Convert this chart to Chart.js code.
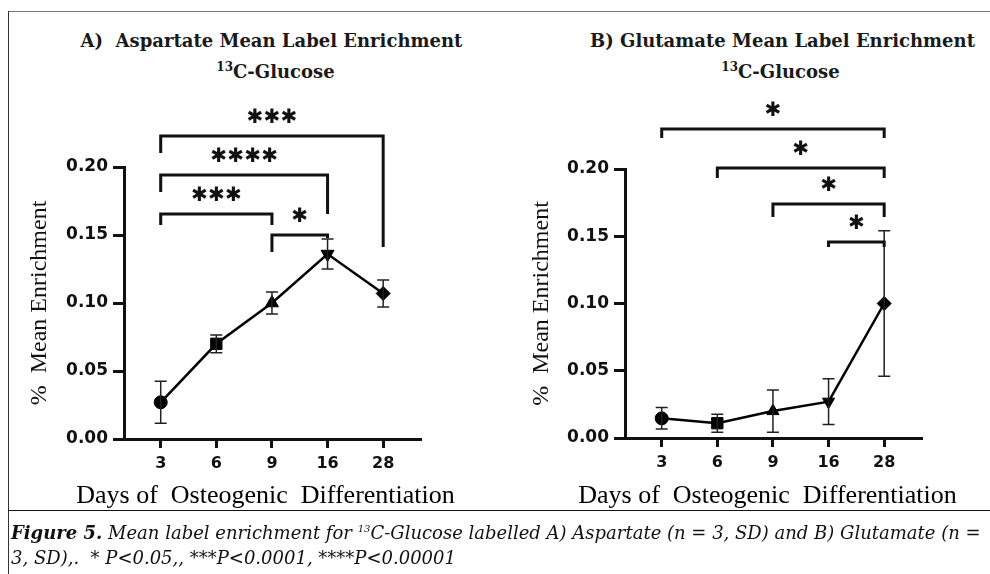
<!DOCTYPE html>
<html>
<head>
<meta charset="utf-8">
<script src="https://cdn.jsdelivr.net/npm/chart.js@4"></script>
<style>
  body { margin: 0; background: #fff; }
  #page { position: relative; width: 990px; height: 574px; overflow: hidden; font-family: "DejaVu Serif", serif; }
  .rule { position: absolute; }
  .panel { position: absolute; top: 0; width: 495px; height: 510px; }
  .title { position: absolute; width: 495px; text-align: center; font-weight: bold; font-size: 18px; color: #1a1a1a; }
  .title sup { font-size: 12px; }
  .xtitle { position: absolute; width: 495px; text-align: center; white-space: pre; font-family: "Liberation Serif", serif; font-size: 26px; line-height: 30px; color: #000; }
  .caption { position: absolute; left: 11px; top: 516px; width: 978px; white-space: nowrap; font-family: "DejaVu Serif", serif; font-style: italic; font-size: 18px; line-height: 25px; color: #111; }
  .caption sup { font-size: 10px; }
</style>
</head>
<body>
<div id="page">
  <div class="rule" style="left:8px;top:11px;width:982px;height:1px;background:#777"></div>
  <div class="rule" style="left:8px;top:11px;width:1px;height:563px;background:#333"></div>
  <div class="rule" style="left:8px;top:510px;width:982px;height:1px;background:#111"></div>

  <div class="title" style="left:24px;top:30px">A)&nbsp; Aspartate Mean Label Enrichment</div>
  <div class="title" style="left:28px;top:60px"><sup>13</sup>C-Glucose</div>
  <div class="title" style="left:535px;top:30px">B) Glutamate Mean Label Enrichment</div>
  <div class="title" style="left:533px;top:60px"><sup>13</sup>C-Glucose</div>

  <div class="panel" style="left:0"><canvas id="chartA" width="495" height="510"></canvas></div>
  <div class="panel" style="left:495px"><canvas id="chartB" width="495" height="510"></canvas></div>

  <div class="xtitle" style="left:18px;top:480px">Days of  Osteogenic  Differentiation</div>
  <div class="xtitle" style="left:520px;top:480px">Days of  Osteogenic  Differentiation</div>

  <div class="caption"><b>Figure 5.</b> Mean label enrichment for <sup>13</sup>C-Glucose labelled A) Aspartate (n = 3, SD) and B) Glutamate (n =<br>3, SD),.&nbsp; * P&lt;0.05,, ***P&lt;0.0001, ****P&lt;0.00001</div>
</div>

<script>
// days of differentiation
const days = ["3", "6", "9", "16", "28"];
const yTicks = [0, 0.05, 0.1, 0.15, 0.2];

// aspartate mean enrichment and SD
const aspMean = [0.027, 0.070, 0.100, 0.136, 0.107];
const aspSd = [0.0155, 0.0065, 0.008, 0.011, 0.010];

// glutamate mean enrichment and SD
const gluMean = [0.0146, 0.011, 0.020, 0.027, 0.100];
const gluSd = [0.008, 0.0067, 0.0157, 0.017, 0.054];

// significance comparisons (day index pairs) and stars
const aspPairs = [[0, 4], [0, 3], [0, 2], [2, 3]];
const aspStars = ["***", "****", "***", "*"];
const gluPairs = [[0, 4], [1, 4], [2, 4], [3, 4]];
const gluStars = ["*", "*", "*", "*"];

// bracket heights in data units: [bar, left end, right end]
const aspLevels = [[0.2228, 0.2103, 0.1412], [0.1941, 0.1816, 0.1654], [0.1654, 0.1574, 0.1574], [0.150, 0.1375, 0.1478]];
const gluLevels = [[0.2297, 0.2230, 0.2230], [0.2007, 0.1933, 0.1933], [0.174, 0.1643, 0.1643], [0.1457, 0.142, 0.142]];

const pointStyles = ["circle", "rect", "triangle", "triangle", "rectRot"];
const pointRotation = [0, 0, 0, 180, 0];

// SD whiskers with caps
const errorBars = {
  id: "errorBars",
  afterDatasetsDraw(chart, args, opts) {
    const { ctx, scales: { x, y } } = chart;
    ctx.save();
    ctx.strokeStyle = "#222";
    ctx.lineWidth = 1.5;
    opts.means.forEach((m, i) => {
      const px = x.getPixelForValue(i);
      const top = y.getPixelForValue(m + opts.sd[i]);
      const bot = y.getPixelForValue(m - opts.sd[i]);
      ctx.beginPath();
      ctx.moveTo(px, top); ctx.lineTo(px, bot);
      ctx.moveTo(px - 6, top); ctx.lineTo(px + 6, top);
      ctx.moveTo(px - 6, bot); ctx.lineTo(px + 6, bot);
      ctx.stroke();
    });
    ctx.restore();
  }
};

// significance brackets drawn above the plot
const brackets = {
  id: "brackets",
  afterDraw(chart, args, opts) {
    const { ctx, scales: { x, y } } = chart;
    ctx.save();
    ctx.strokeStyle = "#111";
    ctx.fillStyle = "#111";
    ctx.lineWidth = 3;
    ctx.lineCap = "butt";
    ctx.lineJoin = "miter";
    opts.pairs.forEach((pair, k) => {
      const [bar, l, r] = opts.levels[k];
      const x1 = x.getPixelForValue(pair[0]);
      const x2 = x.getPixelForValue(pair[1]);
      const yb = y.getPixelForValue(bar);
      ctx.beginPath();
      ctx.moveTo(x1, y.getPixelForValue(l));
      ctx.lineTo(x1, yb);
      ctx.lineTo(x2, yb);
      ctx.lineTo(x2, y.getPixelForValue(r));
      ctx.stroke();
      // stars, one glyph at a time
      const stars = opts.stars[k];
      const cx = (x1 + x2) / 2;
      ctx.font = "20px 'DejaVu Sans'";
      ctx.textAlign = "center";
      ctx.textBaseline = "middle";
      for (let s = 0; s < stars.length; s++) {
        const sx = cx + (s - (stars.length - 1) / 2) * 17;
        ctx.fillText("\u2731", sx, yb - 18);
      }
    });
    ctx.restore();
  }
};

function makeChart(id, means, sd, pairs, stars, levels, area) {
  const ctx = document.getElementById(id).getContext("2d");
  return new Chart(ctx, {
    type: "line",
    data: {
      labels: days,
      datasets: [{
        data: means.map((v, i) => ({ x: i, y: v })),
        borderColor: "#000",
        borderWidth: 2.5,
        backgroundColor: "#000",
        pointBackgroundColor: "#000",
        pointBorderColor: "#000",
        pointStyle: pointStyles,
        rotation: pointRotation,
        pointRadius: area.radius,
        pointBorderWidth: 1,
        tension: 0
      }]
    },
    options: {
      responsive: false,
      animation: false,
      layout: { padding: { left: 0, top: area.top, right: 495 - area.right, bottom: 0 } },
      plugins: {
        legend: { display: false },
        tooltip: { enabled: false },
        errorBars: { means: means, sd: sd },
        brackets: { pairs: pairs, stars: stars, levels: levels }
      },
      scales: {
        x: {
          type: "linear",
          min: -0.66,
          max: 4.68,
          afterBuildTicks: (s) => { s.ticks = days.map((d, i) => ({ value: i })); },
          afterFit: (s) => { s.height = 510 - area.bottom; },
          ticks: {
            callback: (v) => days[v],
            color: "#111",
            padding: 6,
            font: { family: "DejaVu Sans", weight: "bold", size: 16 }
          },
          grid: { drawOnChartArea: false, tickLength: 9, tickWidth: 3, tickColor: "#111" },
          border: { color: "#111", width: 3 }
        },
        y: {
          min: 0,
          max: 0.2,
          afterBuildTicks: (s) => { s.ticks = yTicks.map((v) => ({ value: v })); },
          afterFit: (s) => { s.width = area.left; },
          ticks: {
            callback: (v) => v.toFixed(2),
            color: "#111",
            padding: 5,
            font: { family: "DejaVu Sans", weight: "bold", size: 17 }
          },
          grid: { drawOnChartArea: false, tickLength: 11, tickWidth: 3, tickColor: "#111" },
          border: { color: "#111", width: 3 },
          title: {
            display: true,
            text: "%  Mean Enrichment",
            color: "#111",
            font: { family: "Liberation Serif", size: 24 },
            padding: { top: area.titleX - 14.4, bottom: 0 }
          }
        }
      }
    },
    plugins: [errorBars, brackets]
  });
}

makeChart("chartA", aspMean, aspSd, aspPairs, aspStars, aspLevels,
  { left: 124, right: 421, top: 167, bottom: 439, titleX: 40, radius: [6.5, 8, 7.5, 7.5, 7] });
makeChart("chartB", gluMean, gluSd, gluPairs, gluStars, gluLevels,
  { left: 130, right: 427, top: 169, bottom: 438, titleX: 47, radius: [6.5, 8, 7, 7, 7] });
</script>
</body>
</html>
